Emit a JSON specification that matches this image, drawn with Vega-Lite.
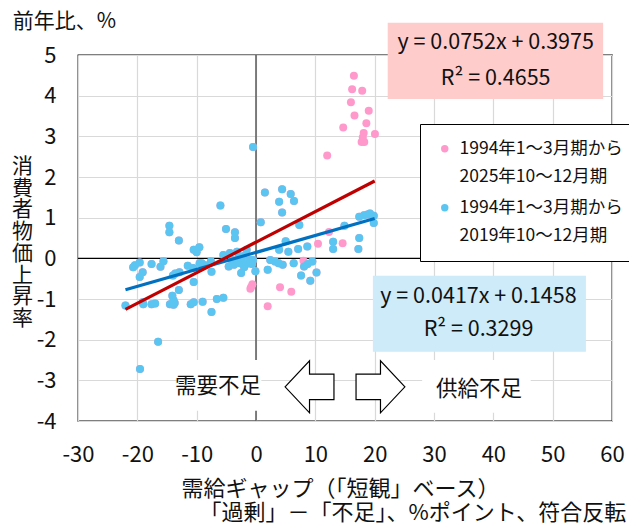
{
  "$schema": "https://vega.github.io/schema/vega-lite/v6.json",
  "width": 534,
  "height": 366,
  "autosize": "none",
  "padding": {"left": 78, "top": 55, "right": 17, "bottom": 105},
  "config": {
    "font": "Noto Sans CJK JP",
    "view": {"stroke": "#000", "strokeWidth": 1.3},
    "axis": {"domain": false, "ticks": false, "tickSize": 0, "grid": true, "gridColor": "#D9D9D9", "gridWidth": 1.2, "labelFontSize": 22, "labelColor": "#111", "labelFont": "Noto Sans CJK JP", "titleFont": "Noto Sans CJK JP", "titleFontWeight": "normal", "titleFontSize": 22, "titleColor": "#111", "labelFlush": false,
      "labelExpr": "datum.value < 0 ? '-' + abs(datum.value) : '' + datum.value"},
    "style": {"guide-label": {"lineHeight": 28}},
    "text": {"font": "Noto Sans CJK JP"}
  },
  "datasets": {
    "pts": [
      {"x": -0.5, "y": 2.74, "s": "b"}, {"x": 1.5, "y": 1.62, "s": "b"}, {"x": 4.4, "y": 1.7, "s": "b"}, {"x": 5.85, "y": 1.58, "s": "b"},
      {"x": 6.4, "y": 1.41, "s": "b"}, {"x": 3.9, "y": 1.39, "s": "b"}, {"x": 4.4, "y": 1.13, "s": "b"}, {"x": -6.0, "y": 1.3, "s": "b"},
      {"x": 0.8, "y": 0.89, "s": "b"}, {"x": 7.3, "y": 0.82, "s": "b"}, {"x": -14.6, "y": 0.8, "s": "b"}, {"x": -14.6, "y": 0.64, "s": "b"},
      {"x": -13.0, "y": 0.44, "s": "b"}, {"x": -5.06, "y": 0.72, "s": "b"}, {"x": -3.55, "y": 0.64, "s": "b"}, {"x": -3.55, "y": 0.5, "s": "b"},
      {"x": 5.0, "y": 0.42, "s": "b"}, {"x": 5.45, "y": 0.16, "s": "b"}, {"x": 3.9, "y": 0.21, "s": "b"}, {"x": 7.1, "y": 0.23, "s": "b"},
      {"x": 8.65, "y": 0.29, "s": "b"}, {"x": -10.5, "y": 0.21, "s": "b"}, {"x": -9.55, "y": 0.27, "s": "b"}, {"x": -10.0, "y": 0.15, "s": "b"},
      {"x": -5.5, "y": 0.08, "s": "b"}, {"x": -4.4, "y": 0.13, "s": "b"}, {"x": -3.2, "y": 0.16, "s": "b"}, {"x": -1.57, "y": 0.21, "s": "b"},
      {"x": -20.4, "y": -0.17, "s": "b"}, {"x": -19.6, "y": -0.1, "s": "b"}, {"x": -20.7, "y": -0.22, "s": "b"}, {"x": -17.6, "y": -0.14, "s": "b"},
      {"x": -15.6, "y": -0.07, "s": "b"}, {"x": -16.1, "y": -0.21, "s": "b"}, {"x": -19.1, "y": -0.34, "s": "b"}, {"x": -19.6, "y": -0.46, "s": "b"},
      {"x": -14.0, "y": -0.42, "s": "b"}, {"x": -12.9, "y": -0.34, "s": "b"}, {"x": -13.6, "y": -0.37, "s": "b"}, {"x": -11.5, "y": -0.18, "s": "b"},
      {"x": -10.6, "y": -0.24, "s": "b"}, {"x": -9.5, "y": -0.12, "s": "b"}, {"x": -9.15, "y": -0.12, "s": "b"}, {"x": -7.6, "y": -0.07, "s": "b"},
      {"x": -7.5, "y": -0.33, "s": "b"}, {"x": -10.5, "y": -0.58, "s": "b"}, {"x": -13.0, "y": -0.78, "s": "b"}, {"x": -14.1, "y": -0.92, "s": "b"},
      {"x": -13.9, "y": -1.03, "s": "b"}, {"x": -13.7, "y": -1.1, "s": "b"}, {"x": -14.5, "y": -1.13, "s": "b"}, {"x": -13.9, "y": -1.14, "s": "b"},
      {"x": -17.6, "y": -1.13, "s": "b"}, {"x": -17.0, "y": -1.11, "s": "b"}, {"x": -19.0, "y": -1.13, "s": "b"}, {"x": -19.1, "y": -1.08, "s": "b"},
      {"x": -22.0, "y": -1.16, "s": "b"}, {"x": -11.0, "y": -1.13, "s": "b"}, {"x": -10.5, "y": -1.08, "s": "b"}, {"x": -9.0, "y": -1.07, "s": "b"},
      {"x": -6.6, "y": -1.0, "s": "b"}, {"x": -5.5, "y": -0.97, "s": "b"}, {"x": -7.5, "y": -1.32, "s": "b"}, {"x": -16.5, "y": -2.05, "s": "b"},
      {"x": -19.55, "y": -2.72, "s": "b"}, {"x": -4.1, "y": -0.04, "s": "b"}, {"x": -3.7, "y": -0.16, "s": "b"}, {"x": -2.7, "y": -0.12, "s": "b"},
      {"x": -2.4, "y": -0.04, "s": "b"}, {"x": -2.5, "y": -0.36, "s": "b"}, {"x": -1.85, "y": -0.16, "s": "b"}, {"x": -1.3, "y": -0.12, "s": "b"},
      {"x": -1.0, "y": -0.04, "s": "b"}, {"x": -0.5, "y": -0.04, "s": "b"}, {"x": -0.7, "y": -0.14, "s": "b"}, {"x": -0.1, "y": -0.32, "s": "b"},
      {"x": 1.97, "y": -0.28, "s": "b"}, {"x": 2.4, "y": -0.04, "s": "b"}, {"x": 3.2, "y": -0.08, "s": "b"}, {"x": 3.8, "y": -0.12, "s": "b"},
      {"x": 4.5, "y": -0.16, "s": "b"}, {"x": 6.35, "y": -0.12, "s": "b"}, {"x": 8.1, "y": -0.2, "s": "b"}, {"x": 8.7, "y": -0.14, "s": "b"},
      {"x": 9.5, "y": -0.08, "s": "b"}, {"x": 10.2, "y": -0.35, "s": "b"}, {"x": 7.6, "y": -0.42, "s": "b"}, {"x": 9.15, "y": -0.55, "s": "b"},
      {"x": 13.0, "y": 0.41, "s": "b"}, {"x": 13.0, "y": 0.23, "s": "b"}, {"x": 14.9, "y": 0.8, "s": "b"}, {"x": 17.4, "y": 0.5, "s": "b"},
      {"x": 17.25, "y": 0.23, "s": "b"}, {"x": 17.4, "y": 1.02, "s": "b"}, {"x": 18.2, "y": 1.06, "s": "b"}, {"x": 19.2, "y": 1.1, "s": "b"},
      {"x": 19.85, "y": 1.05, "s": "b"}, {"x": 19.85, "y": 0.87, "s": "b"}, {"x": 18.8, "y": 1.08, "s": "b"}, {"x": -8.6, "y": -0.17, "s": "b"},
      {"x": -2.1, "y": 0.06, "s": "b"}, {"x": -3.0, "y": 0.0, "s": "b"}, {"x": -2.0, "y": -0.22, "s": "b"}, {"x": -4.6, "y": -0.2, "s": "b"},
      {"x": 16.5, "y": 4.49, "s": "p"}, {"x": 16.2, "y": 4.16, "s": "p"}, {"x": 17.9, "y": 4.12, "s": "p"}, {"x": 16.0, "y": 3.84, "s": "p"},
      {"x": 19.0, "y": 3.63, "s": "p"}, {"x": 16.6, "y": 3.51, "s": "p"}, {"x": 18.6, "y": 3.32, "s": "p"}, {"x": 14.7, "y": 3.22, "s": "p"},
      {"x": 18.15, "y": 3.08, "s": "p"}, {"x": 18.0, "y": 2.98, "s": "p"}, {"x": 17.8, "y": 2.86, "s": "p"}, {"x": 18.25, "y": 2.86, "s": "p"},
      {"x": 20.05, "y": 3.06, "s": "p"}, {"x": 12.0, "y": 2.53, "s": "p"}, {"x": 12.3, "y": 0.65, "s": "p"}, {"x": 10.45, "y": 0.36, "s": "p"},
      {"x": 14.6, "y": 0.37, "s": "p"}, {"x": 8.0, "y": -0.06, "s": "p"}, {"x": 4.05, "y": -0.71, "s": "p"}, {"x": 5.95, "y": -0.82, "s": "p"},
      {"x": 1.97, "y": -1.18, "s": "p"}, {"x": -0.8, "y": -0.7, "s": "p"}, {"x": -0.95, "y": -0.75, "s": "p"}, {"x": -0.6, "y": -0.64, "s": "p"}
    ],
    "fits": [
      {"x": -22, "y": -1.2569, "g": "all"}, {"x": 20, "y": 1.9015, "g": "all"},
      {"x": -22, "y": -0.7716, "g": "pre"}, {"x": 20, "y": 0.9798, "g": "pre"}
    ],
    "boxes": [
      {"x1": 22.2, "x2": 58.5, "y1": 5.79, "y2": 3.92, "k": "all"},
      {"x1": 19.7, "x2": 55.6, "y1": -0.43, "y2": -2.3, "k": "pre"}
    ],
    "blank": [
      {"x1": -13.4, "x2": 0.9, "y1": -2.5, "y2": -3.75},
      {"x1": 28.0, "x2": 46.3, "y1": -2.5, "y2": -3.8}
    ],
    "arrows": [
      {"x": 9.02, "y": -3.16, "d": "left"},
      {"x": 20.98, "y": -3.16, "d": "right"}
    ],
    "notes": [
      {"t": "需要不足", "x": -6.4, "y": -3.16},
      {"t": "供給不足", "x": 37.6, "y": -3.23},
      {"t": "y = 0.0752x + 0.3975", "x": 40.4, "y": 5.3},
      {"t": "R² = 0.4655", "x": 40.4, "y": 4.41},
      {"t": "y = 0.0417x + 0.1458", "x": 37.5, "y": -0.95},
      {"t": "R² = 0.3299", "x": 37.5, "y": -1.76}
    ],
    "notesL": [
      {"t": "前年比、%", "x": -41.0, "y": 5.8}
    ],
    "notesR": [
      {"t": "「過剰」－「不足」、%ポイント、符合反転", "x": 62.4, "y": -6.26}
    ],
    "zx": [{"x": 0}],
    "zy": [{"y": 0}]
  },
  "layer": [
    {
      "data": {"name": "zx"},
      "mark": {"type": "rule", "color": "#595959", "strokeWidth": 1.5},
      "encoding": {
        "x": {"field": "x", "type": "quantitative", "scale": {"domain": [-30, 60], "nice": false, "zero": false},
          "axis": {"values": [-30, -20, -10, 0, 10, 20, 30, 40, 50, 60], "labelPadding": 23, "title": "需給ギャップ（「短観」ベース）", "titleX": 262, "titleY": 67, "titleBaseline": "middle", "titleAlign": "center", "titleAnchor": null}}
      }
    },
    {
      "data": {"name": "zy"},
      "mark": {"type": "rule", "color": "#000", "strokeWidth": 1.4},
      "encoding": {
        "y": {"field": "y", "type": "quantitative", "scale": {"domain": [-4, 5], "nice": false, "zero": false},
          "axis": {"values": [-4, -3, -2, -1, 0, 1, 2, 3, 4, 5], "labelPadding": 22, "title": ["消", "費", "者", "物", "価", "上", "昇", "率"], "titleFontSize": 21, "titleAngle": 0, "titleX": -56, "titleY": 111.5, "titleBaseline": "middle", "titleAlign": "center", "titleLineHeight": 21.7, "titleAnchor": null}}
      }
    },
    {
      "data": {"name": "blank"},
      "mark": {"type": "rect", "color": "#fff"},
      "encoding": {
        "x": {"field": "x1", "type": "quantitative"}, "x2": {"field": "x2"},
        "y": {"field": "y1", "type": "quantitative"}, "y2": {"field": "y2"}
      }
    },
    {
      "data": {"name": "pts"},
      "mark": {"type": "point", "filled": true, "shape": "circle", "size": 64, "opacity": 1},
      "encoding": {
        "x": {"field": "x", "type": "quantitative"},
        "y": {"field": "y", "type": "quantitative"},
        "color": {"datum": "1994年1～3月期から|2025年10～12月期", "type": "nominal",
          "scale": {"domain": ["1994年1～3月期から|2025年10～12月期", "1994年1～3月期から|2019年10～12月期"], "range": ["#FF99CC", "#5BC5F2"]},
          "legend": {"orient": "none", "legendX": 342, "legendY": 69, "title": null, "fillColor": "#fff", "strokeColor": "#000", "padding": 16,
            "labelFontSize": 17.5, "labelColor": "#111", "labelFont": "Noto Sans CJK JP", "labelExpr": "split(datum.label, '|')", "labelLimit": 0, "labelOffset": 6,
            "symbolType": "circle", "symbolSize": 55, "rowPadding": 12,
            "encode": {"labels": {"enter": {"lineHeight": {"value": 28}}, "update": {"lineHeight": {"value": 28}}}}}}
      }
    },
    {
      "data": {"name": "pts"},
      "transform": [{"filter": "datum.s == 'b'"}],
      "mark": {"type": "point", "filled": true, "shape": "circle", "size": 64, "opacity": 1},
      "encoding": {
        "x": {"field": "x", "type": "quantitative"},
        "y": {"field": "y", "type": "quantitative"},
        "color": {"datum": "1994年1～3月期から|2019年10～12月期", "type": "nominal"}
      }
    },
    {
      "data": {"name": "fits"},
      "transform": [{"filter": "datum.g == 'pre'"}],
      "mark": {"type": "line", "color": "#0070C0", "strokeWidth": 3.2},
      "encoding": {"x": {"field": "x", "type": "quantitative"}, "y": {"field": "y", "type": "quantitative"}}
    },
    {
      "data": {"name": "fits"},
      "transform": [{"filter": "datum.g == 'all'"}],
      "mark": {"type": "line", "color": "#C00000", "strokeWidth": 3.2},
      "encoding": {"x": {"field": "x", "type": "quantitative"}, "y": {"field": "y", "type": "quantitative"}}
    },
    {
      "data": {"name": "arrows"},
      "mark": {"type": "point", "filled": true, "fill": "#fff", "stroke": "#000", "strokeWidth": 1.2, "size": 2704, "opacity": 1},
      "encoding": {
        "x": {"field": "x", "type": "quantitative"},
        "y": {"field": "y", "type": "quantitative"},
        "shape": {"field": "d", "type": "nominal", "legend": null,
          "scale": {"domain": ["left", "right"], "range": ["M-0.94,0L0,-1L0,-0.49L0.94,-0.49L0.94,0.49L0,0.49L0,1Z", "M0.94,0L0,-1L0,-0.49L-0.94,-0.49L-0.94,0.49L0,0.49L0,1Z"]}}
      }
    },
    {
      "data": {"name": "boxes"},
      "mark": {"type": "rect"},
      "encoding": {
        "x": {"field": "x1", "type": "quantitative"}, "x2": {"field": "x2"},
        "y": {"field": "y1", "type": "quantitative"}, "y2": {"field": "y2"},
        "fill": {"field": "k", "type": "nominal", "legend": null, "scale": {"domain": ["all", "pre"], "range": ["#FFCCCC", "#CDEBF8"]}}
      }
    },
    {
      "data": {"name": "notes"},
      "mark": {"type": "text", "fontSize": 21.5, "color": "#111", "baseline": "middle", "align": "center"},
      "encoding": {
        "x": {"field": "x", "type": "quantitative"},
        "y": {"field": "y", "type": "quantitative"},
        "text": {"field": "t"}
      }
    },
    {
      "data": {"name": "notesL"},
      "mark": {"type": "text", "fontSize": 21, "color": "#111", "baseline": "middle", "align": "left"},
      "encoding": {
        "x": {"field": "x", "type": "quantitative"},
        "y": {"field": "y", "type": "quantitative"},
        "text": {"field": "t"}
      }
    },
    {
      "data": {"name": "notesR"},
      "mark": {"type": "text", "fontSize": 22, "color": "#111", "baseline": "middle", "align": "right"},
      "encoding": {
        "x": {"field": "x", "type": "quantitative"},
        "y": {"field": "y", "type": "quantitative"},
        "text": {"field": "t"}
      }
    }
  ]
}
